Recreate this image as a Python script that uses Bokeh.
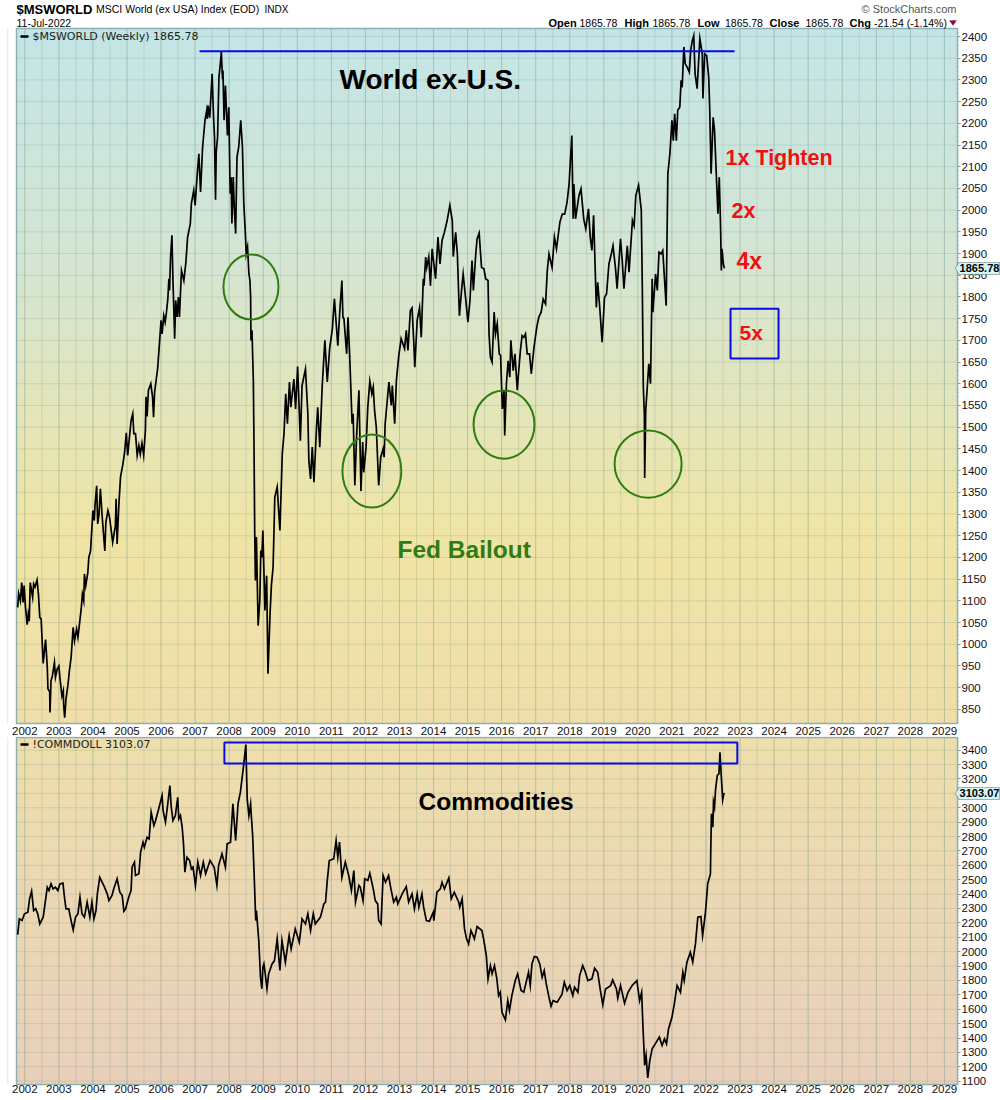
import numpy as np
from bokeh.plotting import figure
from bokeh.layouts import column
from bokeh.models import FixedTicker, Label, PolyAnnotation, NumeralTickFormatter
from bokeh.embed import file_html
from bokeh.resources import INLINE

# ---------- data: (decimal year, value) ----------
ms_2002_2003 = [(2001.79,1085),(2001.82,1117),(2001.87,1100),(2001.91,1142),(2001.95,1096),(2001.98,1135),(2002.02,1085),(2002.07,1045),(2002.10,1069),(2002.13,1053),(2002.16,1142),(2002.23,1108),(2002.26,1139),(2002.30,1132),(2002.36,1148),(2002.40,1116),(2002.44,1062),(2002.48,1058),(2002.54,956),(2002.61,1011),(2002.66,947),(2002.68,897),(2002.73,891),(2002.74,843),(2002.77,916),(2002.81,927),(2002.87,958),(2002.90,924),(2002.95,943),(2003.00,950),(2003.03,924),(2003.09,881),(2003.13,893),(2003.14,862),(2003.17,831),(2003.21,874),(2003.27,908),(2003.31,939),(2003.36,970),(2003.42,1039),(2003.46,1008),(2003.52,1035),(2003.56,1016),(2003.61,1050),(2003.66,1085),(2003.69,1115),(2003.73,1100),(2003.75,1162),(2003.79,1135),(2003.85,1165),(2003.88,1200),(2003.93,1215)]
ms_2004_2005 = [(2004.00,1308),(2004.04,1285),(2004.06,1319),(2004.11,1365),(2004.14,1277),(2004.18,1300),(2004.22,1358),(2004.27,1296),(2004.35,1215),(2004.38,1281),(2004.44,1308),(2004.49,1292),(2004.58,1235),(2004.66,1273),(2004.68,1335),(2004.71,1231),(2004.76,1319),(2004.81,1385),(2004.88,1415),(2004.93,1442),(2004.98,1487),(2005.02,1435),(2005.12,1515),(2005.17,1531),(2005.20,1485),(2005.25,1485),(2005.30,1435),(2005.35,1458),(2005.39,1438),(2005.44,1463),(2005.49,1435),(2005.54,1492),(2005.56,1570),(2005.59,1525),(2005.63,1585),(2005.70,1600),(2005.75,1570),(2005.78,1523),(2005.81,1580),(2005.90,1635),(2005.96,1700)]
ms_2006_2007 = [(2006.00,1746),(2006.03,1715),(2006.08,1757),(2006.12,1742),(2006.16,1765),(2006.20,1796),(2006.23,1842),(2006.25,1815),(2006.28,1892),(2006.32,1942),(2006.35,1838),(2006.40,1704),(2006.43,1792),(2006.47,1754),(2006.51,1800),(2006.54,1754),(2006.60,1861),(2006.67,1838),(2006.73,1880),(2006.78,1938),(2006.86,1969),(2006.89,2015),(2006.96,2045),(2007.00,2011),(2007.06,2080),(2007.11,2130),(2007.16,2042),(2007.22,2145),(2007.29,2207),(2007.34,2230),(2007.36,2210),(2007.38,2241),(2007.43,2213),(2007.50,2314),(2007.54,2218),(2007.57,2168),(2007.60,2024),(2007.62,2134),(2007.66,2168),(2007.70,2306),(2007.74,2337),(2007.77,2364),(2007.80,2310),(2007.82,2314),(2007.85,2207),(2007.89,2287),(2007.95,2172),(2007.99,2237)]
ms_2008_2009 = [(2008.03,2038),(2008.06,2076),(2008.08,1969),(2008.12,2076),(2008.15,2007),(2008.19,1946),(2008.23,2122),(2008.28,2145),(2008.34,2207),(2008.39,2145),(2008.43,2015),(2008.48,1938),(2008.50,1899),(2008.54,1915),(2008.58,1853),(2008.61,1838),(2008.63,1800),(2008.64,1700),(2008.67,1723),(2008.71,1608),(2008.73,1454),(2008.75,1262),(2008.77,1147),(2008.80,1247),(2008.85,1043),(2008.90,1101),(2008.93,1216),(2008.96,1200),(2008.99,1262),(2009.05,1078),(2009.10,1158),(2009.14,932),(2009.20,1070),(2009.24,1135),(2009.29,1178),(2009.34,1339),(2009.41,1362),(2009.49,1262),(2009.56,1439),(2009.61,1485),(2009.66,1577),(2009.71,1508),(2009.77,1604),(2009.81,1546),(2009.90,1611),(2009.95,1542)]
ms_2010_2011 = [(2010.01,1640),(2010.09,1469),(2010.14,1596),(2010.24,1634),(2010.31,1531),(2010.34,1423),(2010.39,1381),(2010.44,1454),(2010.49,1373),(2010.56,1492),(2010.60,1546),(2010.66,1454),(2010.73,1592),(2010.81,1700),(2010.88,1604),(2010.95,1681),(2011.03,1727),(2011.09,1796),(2011.19,1688),(2011.25,1769),(2011.31,1838),(2011.34,1753),(2011.37,1750),(2011.45,1669),(2011.49,1753),(2011.54,1661),(2011.61,1508),(2011.64,1531),(2011.69,1366),(2011.74,1477),(2011.81,1585),(2011.87,1353),(2011.92,1466),(2011.95,1396)]
ms_2012_2013 = [(2012.02,1454),(2012.07,1546),(2012.13,1606),(2012.19,1577),(2012.23,1592),(2012.27,1538),(2012.32,1500),(2012.39,1366),(2012.45,1431),(2012.52,1450),(2012.55,1431),(2012.58,1508),(2012.69,1604),(2012.76,1550),(2012.79,1596),(2012.86,1508),(2012.91,1608),(2012.98,1665),(2013.05,1704),(2013.15,1681),(2013.20,1723),(2013.25,1677),(2013.32,1769),(2013.37,1775),(2013.42,1696),(2013.45,1638),(2013.52,1746),(2013.59,1775),(2013.64,1707),(2013.70,1842),(2013.72,1826),(2013.77,1892),(2013.80,1868),(2013.86,1892),(2013.91,1826),(2013.96,1911)]
ms_2014_2015 = [(2014.06,1842),(2014.13,1938),(2014.19,1876),(2014.25,1930),(2014.32,1949),(2014.40,1976),(2014.48,2011),(2014.55,1976),(2014.58,1893),(2014.65,1949),(2014.70,1899),(2014.76,1757),(2014.84,1830),(2014.87,1853),(2014.94,1799),(2015.01,1742),(2015.07,1792),(2015.13,1884),(2015.17,1815),(2015.24,1899),(2015.28,1934),(2015.34,1947),(2015.41,1868),(2015.48,1865),(2015.53,1842),(2015.60,1838),(2015.63,1715),(2015.67,1661),(2015.72,1650),(2015.78,1765),(2015.82,1715),(2015.87,1738),(2015.93,1669),(2015.97,1665)]
ms_2016_2017 = [(2016.02,1542),(2016.07,1585),(2016.09,1481),(2016.14,1600),(2016.19,1653),(2016.24,1615),(2016.27,1700),(2016.34,1630),(2016.39,1669),(2016.46,1585),(2016.49,1619),(2016.55,1676),(2016.60,1711),(2016.65,1707),(2016.70,1715),(2016.75,1669),(2016.82,1669),(2016.87,1623),(2016.95,1684),(2017.03,1730),(2017.09,1753),(2017.16,1765),(2017.22,1795),(2017.29,1784),(2017.34,1861),(2017.39,1899),(2017.48,1868),(2017.55,1938),(2017.61,1911),(2017.71,1972),(2017.78,1991),(2017.85,1991),(2017.92,2018),(2017.98,2060)]
ms_2018_2019 = [(2018.06,2172),(2018.10,1980),(2018.12,2060),(2018.17,1980),(2018.27,2034),(2018.33,2049),(2018.41,1980),(2018.47,1957),(2018.55,2003),(2018.60,1938),(2018.65,1907),(2018.70,1988),(2018.78,1776),(2018.82,1834),(2018.88,1776),(2018.95,1696),(2019.02,1799),(2019.08,1807),(2019.15,1876),(2019.22,1899),(2019.27,1918),(2019.34,1868),(2019.39,1819),(2019.49,1934),(2019.54,1884),(2019.59,1819),(2019.69,1918),(2019.74,1857),(2019.84,1976),(2019.89,1964),(2019.94,2034)]
ms_2020_2022 = [(2020.02,2057),(2020.10,2000),(2020.13,1823),(2020.16,1592),(2020.19,1531),(2020.20,1383),(2020.23,1538),(2020.27,1585),(2020.32,1646),(2020.37,1600),(2020.42,1842),(2020.44,1765),(2020.52,1853),(2020.57,1815),(2020.62,1903),(2020.68,1899),(2020.73,1907),(2020.83,1780),(2020.88,2084),(2020.94,2130),(2021.00,2207),(2021.04,2160),(2021.08,2222),(2021.13,2160),(2021.17,2230),(2021.23,2237),(2021.27,2299),(2021.30,2283),(2021.35,2376),(2021.39,2337),(2021.45,2329),(2021.51,2318),(2021.55,2368),(2021.60,2391),(2021.64,2402),(2021.68,2314),(2021.74,2280),(2021.82,2395),(2021.89,2360),(2021.91,2257),(2021.96,2360),(2022.02,2356),(2022.08,2306),(2022.11,2230),(2022.15,2084),(2022.21,2214),(2022.25,2184),(2022.31,2068),(2022.35,1992),(2022.39,2076),(2022.43,1953),(2022.45,1861),(2022.47,1911),(2022.51,1876),(2022.54,1865.78)]

cm_2002_2004 = [(2001.79,2119),(2001.84,2228),(2001.92,2216),(2001.99,2263),(2002.09,2274),(2002.14,2367),(2002.20,2420),(2002.26,2286),(2002.32,2298),(2002.38,2263),(2002.44,2193),(2002.54,2240),(2002.66,2448),(2002.71,2425),(2002.77,2471),(2002.83,2436),(2002.90,2448),(2002.97,2425),(2003.03,2471),(2003.12,2476),(2003.17,2367),(2003.21,2298),(2003.29,2298),(2003.36,2216),(2003.42,2151),(2003.49,2240),(2003.56,2263),(2003.62,2378),(2003.68,2263),(2003.75,2240),(2003.83,2344),(2003.91,2240),(2003.97,2344),(2004.03,2228),(2004.09,2286),(2004.13,2402),(2004.20,2517),(2004.27,2483),(2004.34,2448),(2004.42,2402),(2004.47,2355),(2004.56,2390),(2004.61,2436),(2004.71,2506),(2004.79,2413),(2004.86,2390),(2004.91,2281),(2004.96,2298)]
cm_2005_2007 = [(2005.05,2378),(2005.12,2425),(2005.15,2587),(2005.22,2622),(2005.25,2529),(2005.35,2541),(2005.40,2691),(2005.47,2761),(2005.51,2726),(2005.59,2795),(2005.65,2784),(2005.71,2969),(2005.79,2876),(2005.84,2911),(2005.93,2992),(2006.03,3085),(2006.06,2981),(2006.13,2900),(2006.18,2992),(2006.26,3154),(2006.30,3004),(2006.35,2911),(2006.42,2946),(2006.49,3073),(2006.52,2923),(2006.57,2946),(2006.62,2865),(2006.66,2749),(2006.70,2552),(2006.76,2656),(2006.84,2633),(2006.89,2575),(2006.94,2587),(2007.01,2460),(2007.08,2622),(2007.16,2529),(2007.24,2622),(2007.31,2541),(2007.44,2633),(2007.56,2587),(2007.64,2460),(2007.69,2599),(2007.79,2680),(2007.89,2587),(2007.94,2749)]
cm_2008_2010 = [(2008.04,2761),(2008.11,3027),(2008.19,2772),(2008.26,3027),(2008.33,3108),(2008.40,3247),(2008.43,3305),(2008.49,3439),(2008.53,3062),(2008.58,2946),(2008.63,3027),(2008.65,2946),(2008.69,2807),(2008.74,2494),(2008.78,2216),(2008.80,2286),(2008.87,2077),(2008.92,1823),(2008.96,1742),(2008.99,1892),(2009.02,1915),(2009.06,1846),(2009.11,1742),(2009.16,1846),(2009.26,1915),(2009.33,1938),(2009.41,2089),(2009.49,1869),(2009.55,2077),(2009.65,1927),(2009.76,2112),(2009.82,2019),(2009.94,2158),(2010.06,2066),(2010.14,2228),(2010.24,2193),(2010.31,2263),(2010.39,2147),(2010.47,2263),(2010.53,2193),(2010.68,2240),(2010.78,2332),(2010.83,2344),(2010.88,2494),(2010.94,2633)]
cm_2011_2013 = [(2011.07,2645),(2011.14,2772),(2011.19,2656),(2011.24,2761),(2011.31,2517),(2011.41,2622),(2011.51,2529),(2011.59,2425),(2011.66,2564),(2011.71,2344),(2011.81,2460),(2011.85,2448),(2011.93,2355),(2011.98,2506),(2012.07,2494),(2012.13,2545),(2012.23,2436),(2012.29,2355),(2012.36,2332),(2012.39,2216),(2012.46,2193),(2012.52,2529),(2012.59,2482),(2012.68,2529),(2012.75,2436),(2012.83,2344),(2012.91,2378),(2012.95,2332),(2013.08,2401),(2013.20,2452),(2013.27,2344),(2013.37,2401),(2013.44,2297),(2013.52,2401),(2013.57,2309),(2013.66,2401),(2013.71,2309),(2013.79,2216),(2013.88,2211),(2013.99,2274)]
cm_2014_2016 = [(2014.01,2216),(2014.10,2413),(2014.20,2436),(2014.25,2482),(2014.32,2436),(2014.45,2513),(2014.52,2367),(2014.61,2413),(2014.74,2344),(2014.77,2309),(2014.84,2367),(2014.91,2158),(2014.97,2089),(2015.03,2054),(2015.10,2147),(2015.20,2089),(2015.28,2174),(2015.42,2147),(2015.47,2089),(2015.55,1973),(2015.60,1811),(2015.67,1903),(2015.72,1846),(2015.79,1903),(2015.86,1811),(2015.91,1695),(2015.96,1718),(2016.01,1579),(2016.11,1526),(2016.18,1660),(2016.23,1591),(2016.30,1695),(2016.40,1799),(2016.47,1846),(2016.57,1730),(2016.65,1718),(2016.79,1857),(2016.84,1765),(2016.89,1915),(2016.96,1966)]
cm_2017_2019 = [(2017.04,1961),(2017.12,1915),(2017.19,1822),(2017.25,1869),(2017.31,1776),(2017.38,1695),(2017.45,1621),(2017.51,1660),(2017.63,1649),(2017.77,1702),(2017.84,1788),(2017.92,1730),(2018.00,1765),(2018.09,1695),(2018.14,1753),(2018.24,1718),(2018.29,1834),(2018.38,1903),(2018.46,1857),(2018.53,1799),(2018.65,1811),(2018.73,1885),(2018.82,1857),(2018.90,1730),(2018.97,1632),(2019.05,1741),(2019.20,1764),(2019.26,1804),(2019.37,1741),(2019.41,1676),(2019.49,1765),(2019.61,1642),(2019.71,1718),(2019.83,1765),(2019.97,1799)]
cm_2020_2022 = [(2020.05,1660),(2020.11,1718),(2020.15,1475),(2020.20,1209),(2020.24,1278),(2020.29,1123),(2020.35,1243),(2020.42,1325),(2020.51,1359),(2020.63,1406),(2020.71,1348),(2020.78,1394),(2020.84,1359),(2020.90,1463),(2021.00,1544),(2021.07,1637),(2021.15,1765),(2021.25,1718),(2021.32,1857),(2021.36,1799),(2021.44,1927),(2021.54,1996),(2021.61,1927),(2021.69,2054),(2021.76,2239),(2021.85,2244),(2021.90,2112),(2021.98,2262),(2022.05,2471),(2022.13,2540),(2022.14,2703),(2022.16,2958),(2022.20,2865),(2022.22,3039),(2022.25,3004),(2022.28,3124),(2022.33,3224),(2022.38,3236),(2022.41,3386),(2022.45,3212),(2022.49,3055),(2022.53,3103.07)]

year_ticks = list(range(2002, 2030))
half_year_ticks = [y + 0.5 for y in range(2001, 2029)]
ms_ticks = list(range(850, 2401, 50))
cm_ticks = list(range(1100, 3401, 100))

ms_series = ms_2002_2003 + ms_2004_2005 + ms_2006_2007 + ms_2008_2009 + ms_2010_2011 + ms_2012_2013 + ms_2014_2015 + ms_2016_2017 + ms_2018_2019 + ms_2020_2022
cm_series = cm_2002_2004 + cm_2005_2007 + cm_2008_2010 + cm_2011_2013 + cm_2014_2016 + cm_2017_2019 + cm_2020_2022

# annotation shapes, in chart units
high_water_level = 2366
high_water_years = (2007.13, 2022.84)
target_box = (2022.72, 2024.13, 1658, 1773)
commodity_box = (2007.86, 2022.92, 3308, 3453)
circles = [(2008.64, 1823, 1.615, 150), (2012.19, 1399, 1.73, 168), (2016.07, 1506, 1.79, 157), (2020.30, 1415, 1.97, 155)]

FONT = "Liberation Sans"
BLUE = "#0a0ae6"
GREEN = "#2f7d10"
RED = "#f01010"
GRID = "#5f8a78"

# layout calibration: page pixels to chart units
def X(px): return 2002 + (px - 24.3) / 34.06
def Y1(py): return 2400 - (py - 36) / 0.4341
def Y2(py): return 3400 - (py - 749.7) / 0.1439

def hex2rgb(h): return [int(h[i:i+2], 16) for i in (1, 3, 5)]

def gradient(stops, n=256):
    # stops run from the top of the panel downwards; row 0 of the image is its bottom
    pos = [s[0] for s in stops]
    cols = np.array([hex2rgb(s[1]) for s in stops], float)
    t = np.linspace(1, 0, n)
    out = np.zeros((n, 1), dtype=np.uint32)
    v = out.view(dtype=np.uint8).reshape((n, 1, 4))
    for c in range(3):
        v[:, 0, c] = np.interp(t, pos, cols[:, c]).astype(np.uint8)
    v[:, 0, 3] = 255
    return out

def panel(yfn, page_top, page_bottom, box_top, box_bottom, ticks, minor, stops, standoff):
    """The plot area fills the figure, so header and value tags stay inside it;
    axes are pinned to the visible panel box and the grid is drawn only inside that box."""
    left, right = X(16), X(957)
    y0, y1 = yfn(box_bottom), yfn(box_top)
    p = figure(width=1000, height=page_bottom - page_top, x_range=(X(0), X(1000)), y_range=(yfn(page_bottom), yfn(page_top)),
               y_axis_location="right", output_backend="svg", toolbar_location=None, min_border=0,
               min_border_left=0, min_border_right=0, min_border_top=0, min_border_bottom=0)
    p.image_rgba(image=[gradient(stops)], x=left, y=y0, dw=right - left, dh=y1 - y0, level="image")
    p.xaxis.ticker = FixedTicker(ticks=year_ticks, minor_ticks=half_year_ticks)
    p.yaxis.ticker = FixedTicker(ticks=ticks, minor_ticks=minor)
    p.yaxis.formatter = NumeralTickFormatter(format="0")
    p.xaxis.formatter = NumeralTickFormatter(format="0")
    p.xaxis.fixed_location = y0
    p.yaxis.fixed_location = right
    for ax in (p.xaxis, p.yaxis):
        ax.axis_line_color = None
        ax.major_label_text_font = FONT
        ax.major_label_text_font_size = "11.5px"
        ax.major_label_text_color = "#111111"
        ax.minor_tick_in = 0
        ax.major_tick_in = 0
    p.xaxis.major_tick_out = 0
    p.xaxis.minor_tick_out = 0
    p.xaxis.major_label_standoff = standoff
    p.yaxis.major_tick_out = 3
    p.yaxis.major_tick_line_color = "#6f9a9c"
    p.yaxis.minor_tick_out = 1
    p.yaxis.minor_tick_line_color = "#8fb0b0"
    p.yaxis.major_label_standoff = 1
    p.xgrid.visible = False
    p.ygrid.visible = False
    p.segment(x0=half_year_ticks, x1=half_year_ticks, y0=y0, y1=y1, line_color=GRID, line_alpha=0.2, line_width=1, level="underlay")
    p.segment(x0=year_ticks, x1=year_ticks, y0=y0, y1=y1, line_color=GRID, line_alpha=0.37, line_width=1, level="underlay")
    p.segment(x0=left, x1=right, y0=ticks, y1=ticks, line_color=GRID, line_alpha=0.2, line_width=1, level="underlay")
    p.outline_line_color = None
    p.quad(left=left, right=right, bottom=y0, top=y1, fill_color=None, line_color="#8fb0b0", line_width=1.5, level="underlay")
    return p

def text(p, x, y, s, size, color="#000000", bold=False, align="left", font=FONT):
    p.add_layout(Label(x=x, y=y, text=s, text_font=font, text_font_size=size, text_color=color,
                       text_font_style="bold" if bold else "normal", text_align=align, text_baseline="middle"))

def value_tag(p, value, yfn, py, s):
    xs = [X(955), X(958.5), X(999), X(999), X(958.5)]
    ys = [yfn(py), yfn(py - 6), yfn(py - 6), yfn(py + 6), yfn(py + 6)]
    p.add_layout(PolyAnnotation(xs=xs, ys=ys, fill_color="#d2f7f7", fill_alpha=1, line_color="#000000", line_width=1))
    text(p, X(979), value, s, "11px", bold=True, align="center")

# ---------- top panel ----------
top = panel(Y1, 0, 736, 28, 723, ms_ticks, list(range(820, 2420, 10)),
            [(0, "#c4e5e7"), (0.35, "#d6e5d2"), (0.72, "#f0e5a6"), (1, "#efdeaa")], 3)
top.line([d[0] for d in ms_series], [d[1] for d in ms_series], line_color="#000000", line_width=1.7, line_join="miter")
top.segment(x0=[high_water_years[0]], x1=[high_water_years[1]], y0=[high_water_level], y1=[high_water_level], line_color=BLUE, line_width=2)
top.quad(left=target_box[0], right=target_box[1], bottom=target_box[2], top=target_box[3], fill_color=None, line_color=BLUE, line_width=2)
top.ellipse(x=[c[0] for c in circles], y=[c[1] for c in circles], width=[c[2] for c in circles], height=[c[3] for c in circles],
            fill_color=None, line_color=GREEN, line_width=2)
top.segment(x0=[X(20)], x1=[X(28)], y0=[Y1(36)], y1=[Y1(36)], line_color="#000000", line_width=2.5)
text(top, X(32), Y1(36), "$MSWORLD (Weekly) 1865.78", "11px", font="DejaVu Sans", color="#222222")
text(top, X(339), Y1(79), "World ex-U.S.", "28px", bold=True)
text(top, X(725), Y1(157), "1x Tighten", "21.5px", RED, True)
text(top, X(731), Y1(210), "2x", "21.5px", RED, True)
text(top, X(736), Y1(260), "4x", "23px", RED, True)
text(top, X(739), Y1(332), "5x", "21px", RED, True)
text(top, X(397), Y1(549), "Fed Bailout", "24.5px", GREEN, True)

text(top, X(16), Y1(8.5), "$MSWORLD", "13px", bold=True)
text(top, X(95.5), Y1(8.5), "MSCI World (ex USA) Index (EOD)", "10.5px")
text(top, X(264), Y1(8.5), "INDX", "10px")
text(top, X(16), Y1(22), "11-Jul-2022", "10.5px")
text(top, X(956), Y1(8.5), "© StockCharts.com", "11px", "#555555", align="right")
for px_pos, s, bold in [(548, "Open", True), (579, "1865.78", False), (624, "High", True), (652, "1865.78", False),
                        (697, "Low", True), (724.5, "1865.78", False), (769, "Close", True), (805, "1865.78", False),
                        (849, "Chg", True), (873.5, "-21.54 (-1.14%)", False)]:
    text(top, X(px_pos), Y1(22), s, "11px" if bold else "10.5px", bold=bold)
top.add_layout(PolyAnnotation(xs=[X(949), X(956), X(952.5)], ys=[Y1(20), Y1(20), Y1(25)], fill_color="#8b0a3a", fill_alpha=1, line_color="#8b0a3a"))
value_tag(top, 1865.78, Y1, 268, "1865.78")

# ---------- bottom panel ----------
bot = panel(Y2, 736, 1098, 737, 1084, cm_ticks, list(range(1080, 3490, 20)),
            [(0, "#eedfac"), (1, "#e9d0bc")], 0)
bot.line([d[0] for d in cm_series], [d[1] for d in cm_series], line_color="#000000", line_width=1.7, line_join="miter")
bot.quad(left=commodity_box[0], right=commodity_box[1], bottom=commodity_box[2], top=commodity_box[3], fill_color=None, line_color=BLUE, line_width=2)
bot.segment(x0=[X(20)], x1=[X(28)], y0=[Y2(744)], y1=[Y2(744)], line_color="#000000", line_width=2.5)
text(bot, X(32), Y2(744), "!COMMDOLL 3103.07", "11px", font="DejaVu Sans", color="#222222")
text(bot, X(418), Y2(801), "Commodities", "24.5px", bold=True)
value_tag(bot, 3103.07, Y2, 793, "3103.07")

page = column(top, bot, spacing=0)
open("out.html", "w").write(file_html(page, INLINE))
